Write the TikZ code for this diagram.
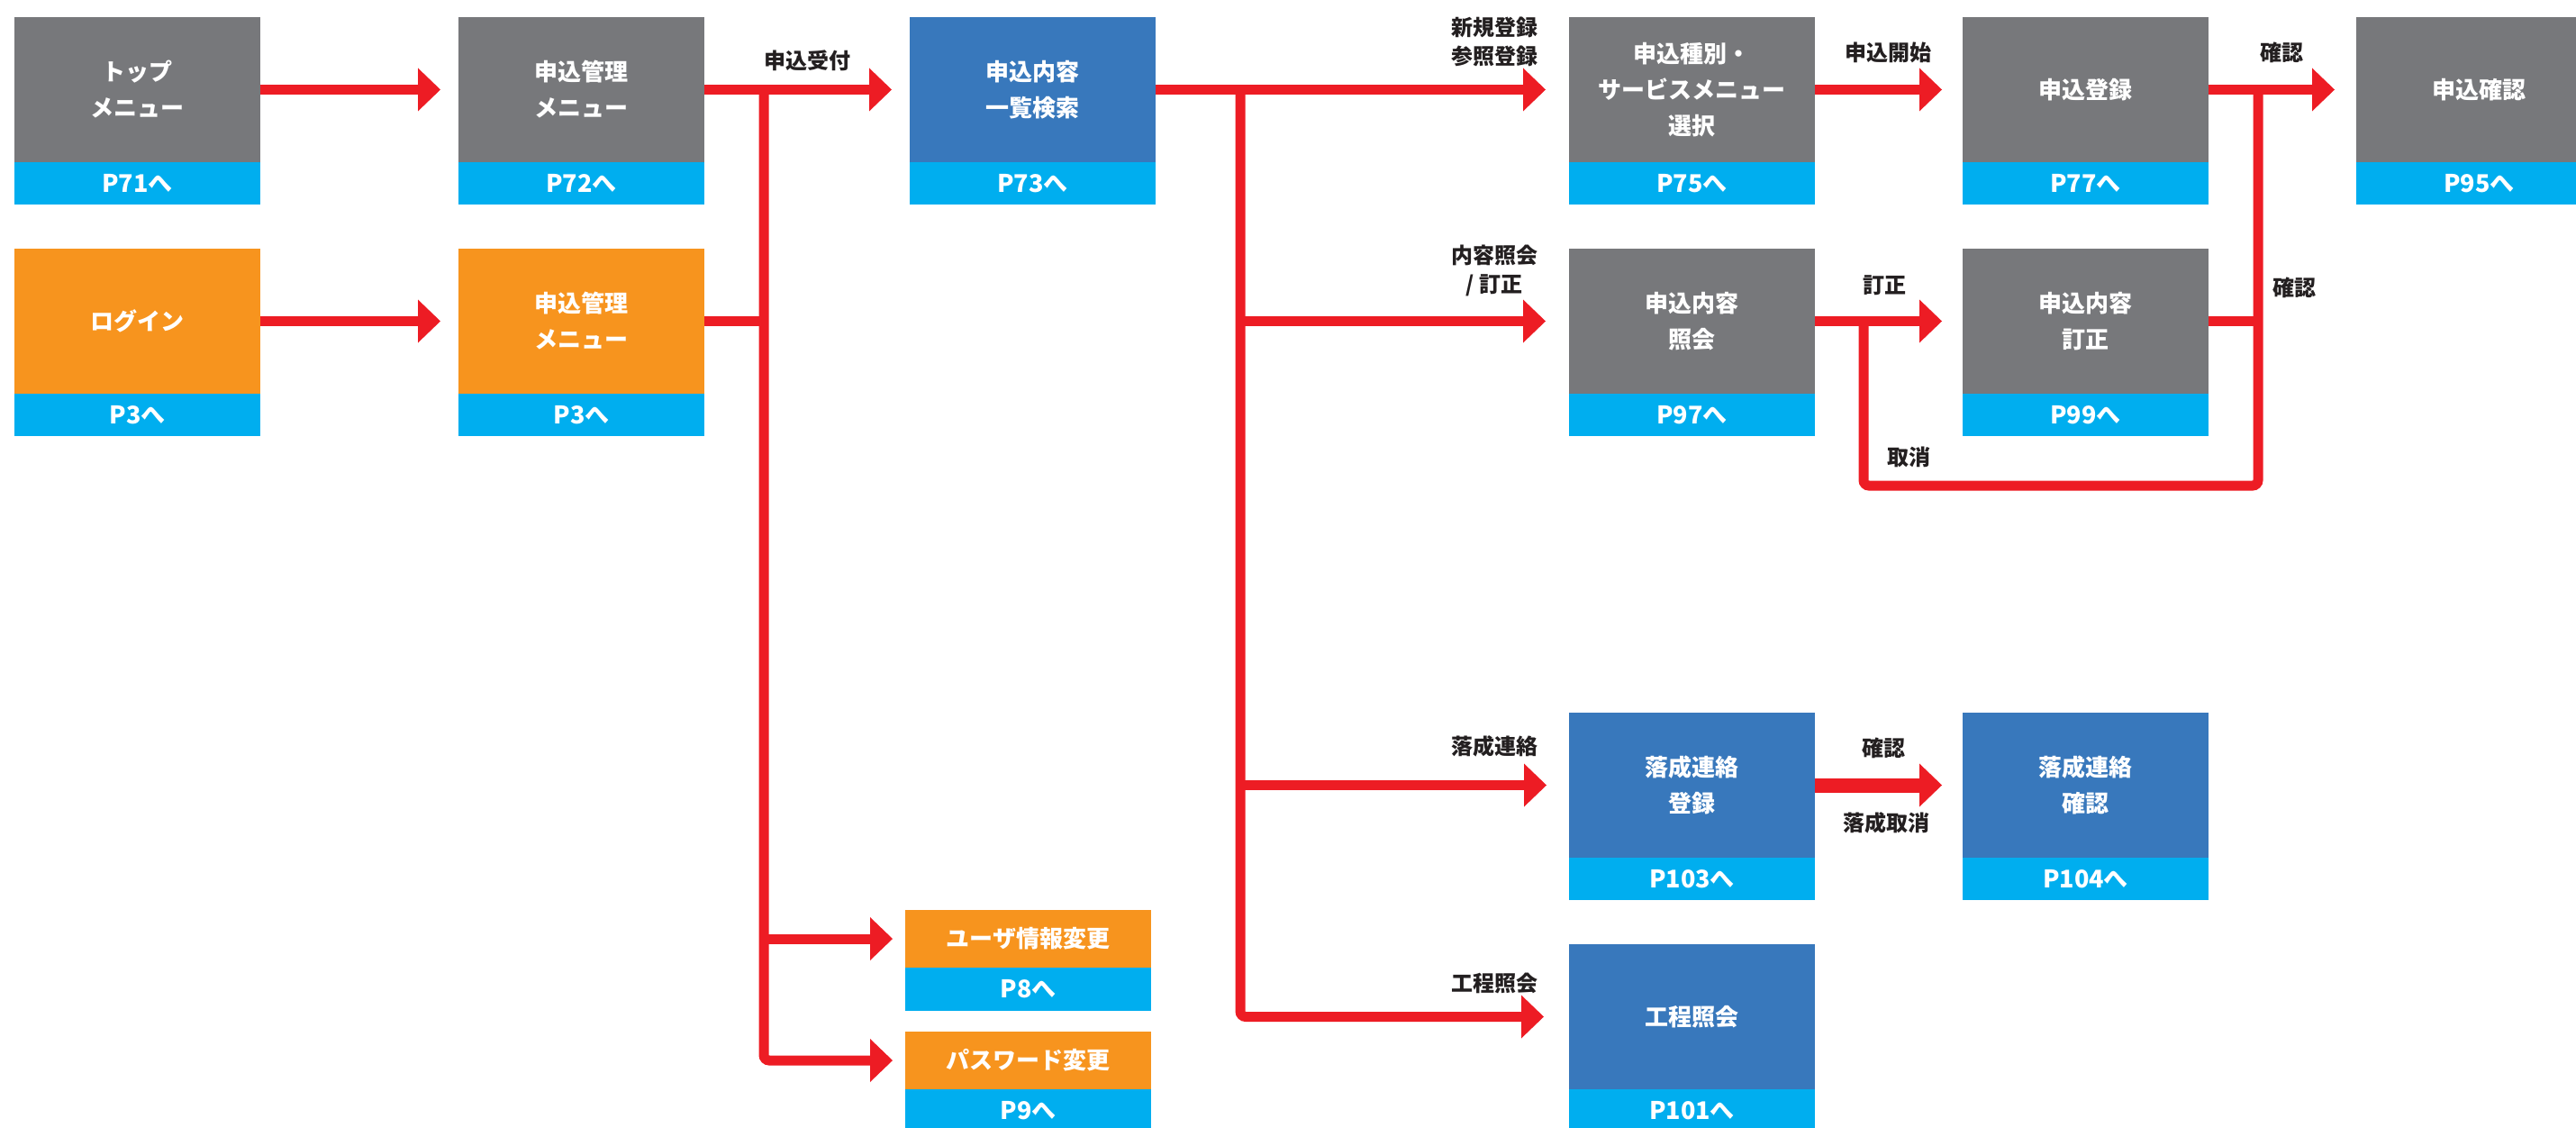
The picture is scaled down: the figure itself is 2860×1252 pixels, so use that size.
\documentclass[tikz,border=0pt]{standalone}
\usepackage{fontspec}
\newfontfamily\jp{Noto Sans CJK JP}
\usetikzlibrary{arrows.meta,calc}
\definecolor{cgray}{HTML}{77787B}
\definecolor{cblue}{HTML}{3878BC}
\definecolor{clight}{HTML}{00AEEF}
\definecolor{corange}{HTML}{F7941E}
\definecolor{cred}{HTML}{ED1C24}
\definecolor{ctext}{HTML}{231F20}
\begin{document}
\begin{tikzpicture}[x=0.5pt,y=-0.5pt,
  box/.style={minimum width=136.5pt, minimum height=80.5pt, inner sep=0pt, outer sep=0pt, text=white, align=center, font=\jp\bfseries\fontsize{13pt}{20pt}\selectfont},
  gbox/.style={box, fill=cgray},
  bbox/.style={box, fill=cblue},
  obox/.style={box, fill=corange},
  sbox/.style={obox, minimum height=32pt},
  pbox/.style={minimum width=136.5pt, minimum height=23.5pt, inner sep=0pt, outer sep=0pt, fill=clight, text=white, anchor=north, font=\jp\bfseries\fontsize{13.5pt}{16pt}\selectfont},
  spbox/.style={pbox, minimum height=24pt},
  lab/.style={text=ctext, align=center, inner sep=0pt, font=\jp\bfseries\fontsize{12pt}{16pt}\selectfont},
  rl/.style={draw=cred, line width=5.5pt},
  arr/.style={rl, -{Triangle[length=12.5pt,width=24pt,line width=0pt]}},
]
\useasboundingbox (0,0) rectangle (2860,1252);
\clip (0,0) rectangle (2860,1252);

% boxes
\node[gbox] (top) at (152.5,99.5) {トップ\\メニュー};
\node[pbox] (top-p) at (top.south) {P71へ};
\node[gbox] (kanri1) at (645.5,99.5) {申込管理\\メニュー};
\node[pbox] (kanri1-p) at (kanri1.south) {P72へ};
\node[bbox] (naiyo) at (1146.5,99.5) {申込内容\\一覧検索};
\node[pbox] (naiyo-p) at (naiyo.south) {P73へ};
\node[gbox] (shubetsu) at (1878.5,99.5) {申込種別・\\サービスメニュー\\選択};
\node[pbox] (shubetsu-p) at (shubetsu.south) {P75へ};
\node[gbox] (toroku) at (2315.5,99.5) {申込登録};
\node[pbox] (toroku-p) at (toroku.south) {P77へ};
\node[gbox] (kakunin) at (2752.5,99.5) {申込確認};
\node[pbox] (kakunin-p) at (kakunin.south) {P95へ};

\node[obox] (login) at (152.5,356.5) {ログイン};
\node[pbox] (login-p) at (login.south) {P3へ};
\node[obox] (kanri2) at (645.5,356.5) {申込管理\\メニュー};
\node[pbox] (kanri2-p) at (kanri2.south) {P3へ};
\node[gbox] (shokai) at (1878.5,356.5) {申込内容\\照会};
\node[pbox] (shokai-p) at (shokai.south) {P97へ};
\node[gbox] (teisei) at (2315.5,356.5) {申込内容\\訂正};
\node[pbox] (teisei-p) at (teisei.south) {P99へ};

\node[bbox] (rakusei) at (1878.5,871.5) {落成連絡\\登録};
\node[pbox] (rakusei-p) at (rakusei.south) {P103へ};
\node[bbox] (rakkaku) at (2315.5,871.5) {落成連絡\\確認};
\node[pbox] (rakkaku-p) at (rakkaku.south) {P104へ};
\node[bbox] (koutei) at (1878.5,1128.5) {工程照会};
\node[pbox] (koutei-p) at (koutei.south) {P101へ};

\node[sbox] (user) at (1141.5,1042) {ユーザ情報変更};
\node[spbox] (user-p) at (user.south) {P8へ};
\node[sbox] (pw) at (1141.5,1177) {パスワード変更};
\node[spbox] (pw-p) at (pw.south) {P9へ};

% junctions
\coordinate (j1) at (848,99.5);
\coordinate (j2) at (1377,99.5);
\coordinate (j3) at (2507,99.5);
\coordinate (jt) at (2069,356.5);
\coordinate (lb) at (2069,539);

% connectors
\draw[arr] (top.east) -- ([xshift=-10pt]kanri1.west);
\draw[arr] (login.east) -- ([xshift=-10pt]kanri2.west);
\draw[arr] (kanri1.east) -- ([xshift=-10pt]naiyo.west);
\draw[arr, rounded corners=3pt] (j1) |- ([xshift=-7pt]pw.west);
\draw[rl] (kanri2.east) -- (kanri2.east -| j1);
\draw[arr] (j1 |- user.west) -- ([xshift=-7pt]user.west);

\draw[arr] (naiyo.east) -- ([xshift=-13pt]shubetsu.west);
\draw[arr, rounded corners=3pt] (j2) |- ([xshift=-14pt]koutei.west);
\draw[arr] (j2 |- shokai.west) -- ([xshift=-13pt]shokai.west);
\draw[arr] (j2 |- rakusei.west) -- ([xshift=-12.5pt]rakusei.west);

\draw[arr] (shubetsu.east) -- ([xshift=-11.5pt]toroku.west);
\draw[arr] (toroku.east) -- ([xshift=-12pt]kakunin.west);
\draw[arr] (shokai.east) -- ([xshift=-11.5pt]teisei.west);
\draw[rl, rounded corners=3pt] (jt) -- (lb) -| (j3);
\draw[rl] (teisei.east) -- (teisei.east -| j3);
\draw[arr, line width=8pt] (rakusei.east) -- ([xshift=-11.5pt]rakkaku.west);

% labels
\node[lab] (l1) at (896,67) {申込受付};
\node[lab] (l2) at (1659,46) {新規登録\\参照登録};
\node[lab] (l3) at (1659,300) {内容照会\\/ 訂正};
\node[lab] (l4) at (1659,828) {落成連絡};
\node[lab] (l5) at (1659,1091) {工程照会};
\node[lab] (l6) at (2096,58) {申込開始};
\node[lab] (l7) at (2533,58) {確認};
\node[lab] (l8) at (2092,317) {訂正};
\node[lab] (l9) at (2547,319) {確認};
\node[lab] (l10) at (2119,507) {取消};
\node[lab] (l11) at (2091,830) {確認};
\node[lab] (l12) at (2094,913) {落成取消};
\end{tikzpicture}
\end{document}
